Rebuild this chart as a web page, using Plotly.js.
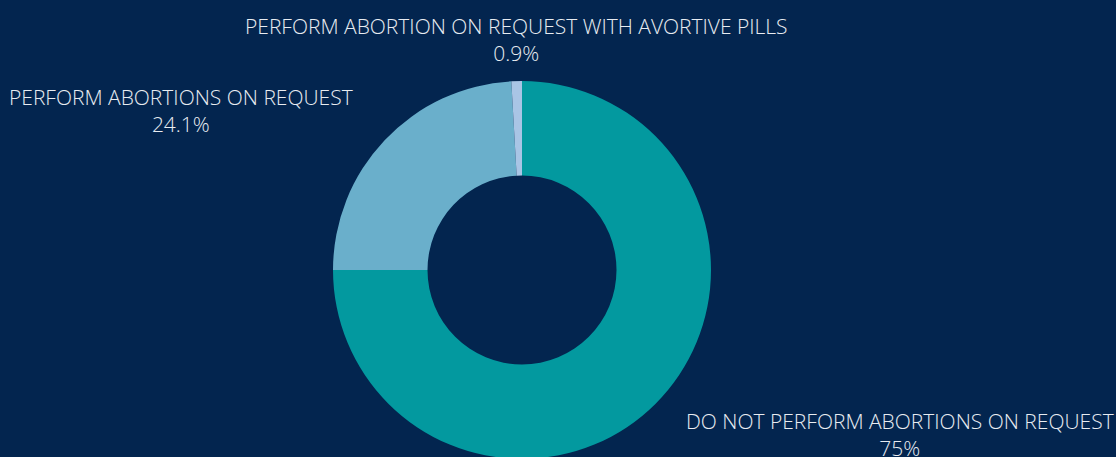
<!DOCTYPE html>
<html><head><meta charset="utf-8">
<script src="https://cdn.plot.ly/plotly-3.0.1.min.js"></script>
<style>html,body{margin:0;padding:0;background:#03254f;overflow:hidden;}#chart{width:1116px;height:480px;}</style>
</head><body><div id="chart"></div>
<script>
const labels = ["DO NOT PERFORM ABORTIONS ON REQUEST", "PERFORM ABORTIONS ON REQUEST", "PERFORM ABORTION ON REQUEST WITH AVORTIVE PILLS"];
const values = [75, 24.1, 0.9];
const colors = ["#03999f", "#6aafcb", "#a9c5e5"];
// label placement (paper coordinates), layout only
const labelPos = [[0.862, 0.0635], [0.1734, 0.922], [0.4943, 1.1085]];

const total = values.reduce((a, b) => a + b, 0);
const annotations = labels.map((lab, i) => {
  const pct = Math.round(values[i] / total * 1000) / 10;
  return {
    xref: "paper", yref: "paper",
    x: labelPos[i][0], y: labelPos[i][1],
    xanchor: "center", yanchor: "middle", align: "center",
    text: lab + "<br>" + pct + "%",
    showarrow: false,
    font: {family: "Open Sans", size: 21, color: "#e8ecf1", weight: 300}
  };
});

Plotly.newPlot("chart", [{
  type: "pie",
  labels: labels,
  values: values,
  hole: 0.5,
  sort: false,
  direction: "clockwise",
  rotation: 0,
  textinfo: "none",
  marker: {colors: colors, line: {width: 0}},
  showlegend: false
}], {
  width: 1116, height: 480,
  margin: {l: 0, r: 72, t: 81, b: 21},
  paper_bgcolor: "#03254f",
  plot_bgcolor: "#03254f",
  font: {family: "Open Sans", weight: 300},
  annotations: annotations
}, {displayModeBar: false, staticPlot: true});
</script></body></html>
